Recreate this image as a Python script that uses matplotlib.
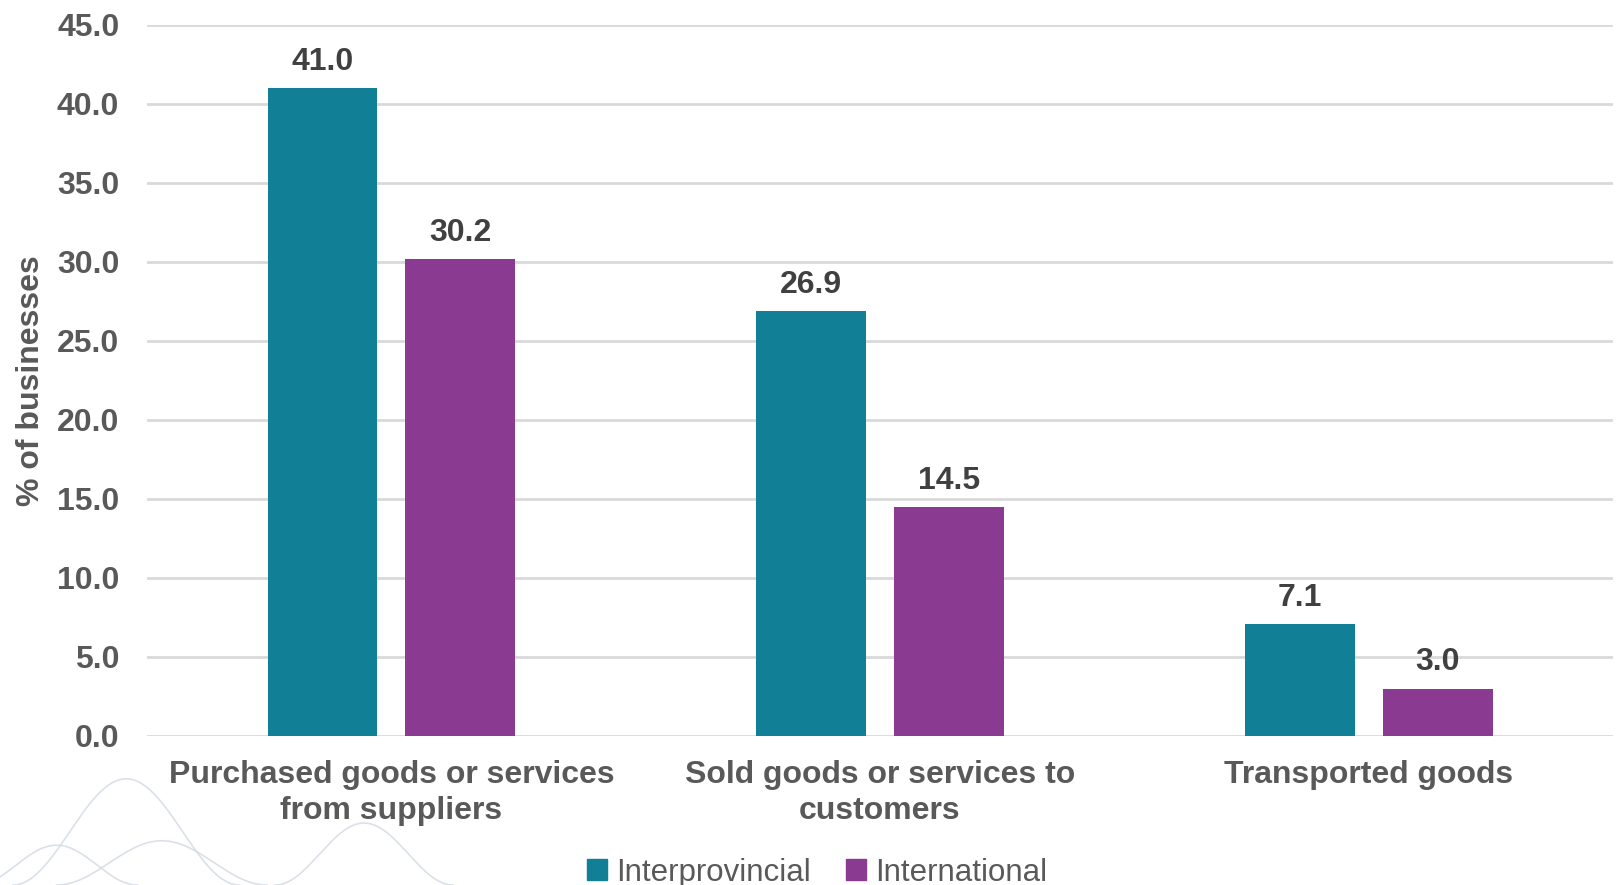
import numpy as np
import matplotlib.pyplot as plt
from matplotlib.patches import Patch

plt.rcParams['font.family'] = ['Liberation Sans', 'DejaVu Sans']

categories = ['Purchased goods or services\nfrom suppliers',
              'Sold goods or services to\ncustomers',
              'Transported goods']
interprovincial = [41.0, 26.9, 7.1]
international = [30.2, 14.5, 3.0]
yticks = np.arange(0, 45.1, 5)

teal = '#117f96'
purple = '#8b3a92'
grey = '#595959'

fig = plt.figure(figsize=(16.18, 8.85), dpi=100)
ax = fig.add_axes([0.0909, 0.1684, 0.906, 0.8034])

# faint decorative waves in the lower-left corner
for cx, cy, w, h in [(0.078, 0.0, 0.07, 0.12), (0.225, 0.0, 0.055, 0.07),
                     (0.10, 0.0, 0.065, 0.05), (0.035, 0.0, 0.05, 0.045)]:
    t = np.linspace(-1, 1, 200)
    fig.add_artist(plt.Line2D(cx + w * t, cy + h * np.cos(t * np.pi / 2) ** 2,
                              color='#d3d9e3', lw=1.2, alpha=0.8,
                              transform=fig.transFigure, zorder=0))

x = np.arange(len(categories))
off = 0.141
bw = 0.225
b1 = ax.bar(x - off, interprovincial, bw, color=teal, zorder=3)
b2 = ax.bar(x + off, international, bw, color=purple, zorder=3)

for bars, vals in [(b1, interprovincial), (b2, international)]:
    for rect, v in zip(bars, vals):
        ax.annotate(f'{v:.1f}', (rect.get_x() + rect.get_width() / 2, v),
                    xytext=(0, 8), textcoords='offset points', ha='center',
                    va='bottom', fontsize=23, fontweight='bold', color='#404040')

ax.set_xlim(-0.5, 2.5)
ax.set_ylim(0, 45)
ax.set_yticks(yticks)
ax.set_yticklabels([f'{v:.1f}' for v in yticks], fontsize=23,
                   fontweight='bold', color=grey)
ax.set_xticks(x)
ax.set_xticklabels(categories, fontsize=23, fontweight='bold', color=grey,
                   linespacing=1.3)
ax.tick_params(length=0, pad=17)
ax.tick_params(axis='y', pad=20)
ax.grid(axis='y', color='#d9d9d9', lw=2, zorder=0)
for s in ax.spines.values():
    s.set_visible(False)
ax.set_ylabel('% of businesses', fontsize=23, fontweight='bold', color=grey,
              labelpad=8)

handles = [Patch(color=teal, label='Interprovincial'),
           Patch(color=purple, label='International')]
fig.legend(handles=handles, loc='lower center', bbox_to_anchor=(0.505, -0.035),
           ncol=2, frameon=False, fontsize=22.5, handlelength=0.65,
           handleheight=0.65, handletextpad=0.3, columnspacing=1.1,
           labelcolor=grey)

fig.savefig('out.png', dpi=100)
